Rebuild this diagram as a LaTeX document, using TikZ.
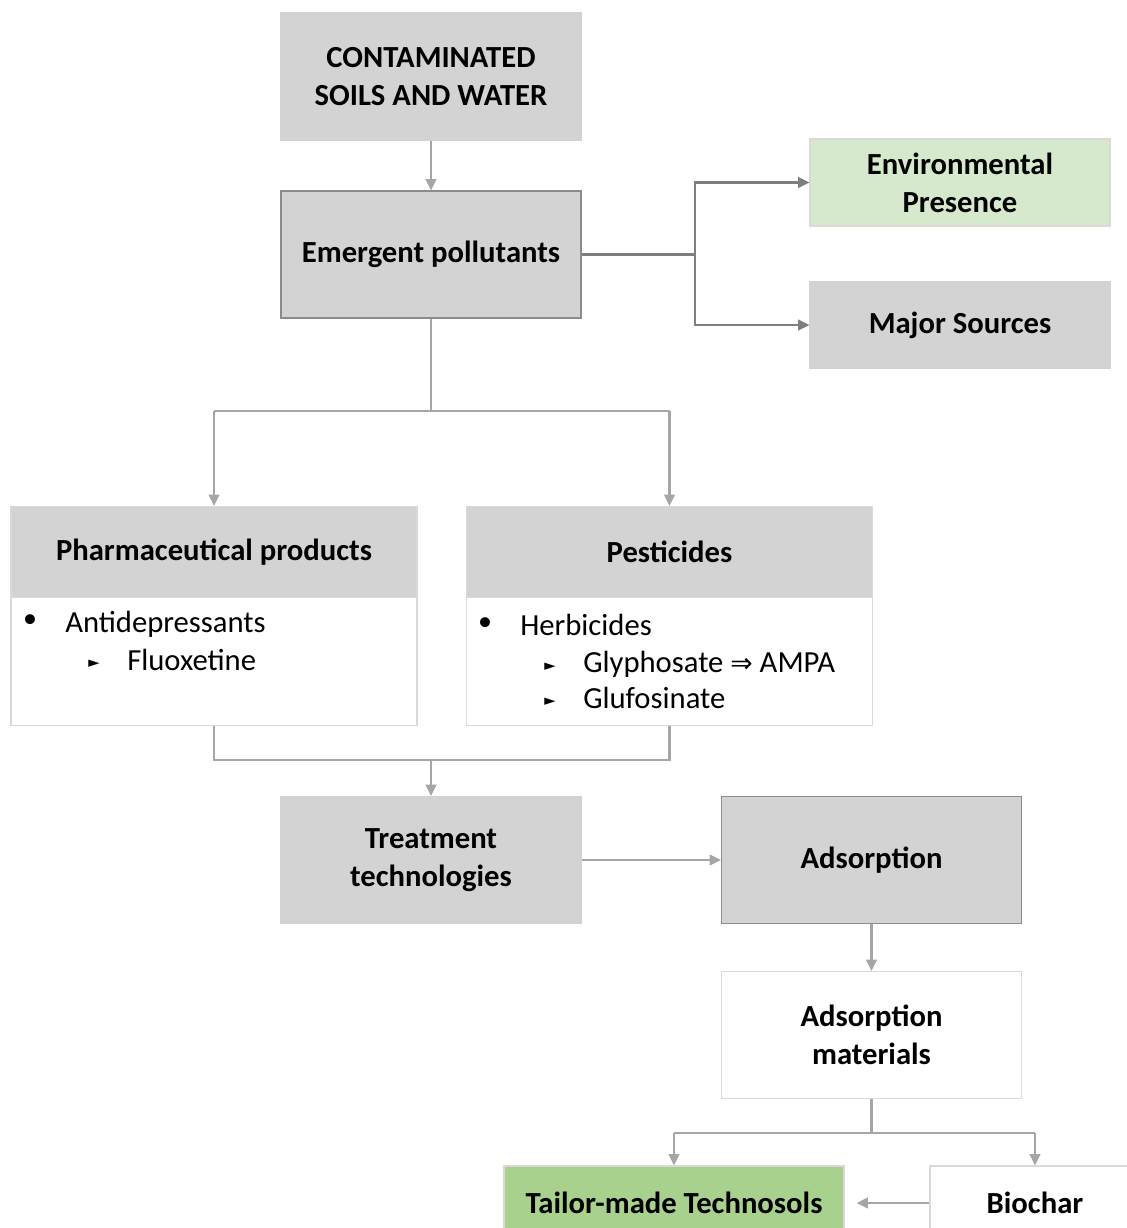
\documentclass[tikz,border=0pt]{standalone}
\usepackage{fontspec}
\setmainfont{Carlito}
\newfontfamily\symfont{DejaVu Sans}
\usepackage{xcolor}
\usepackage{tikz}
\usetikzlibrary{arrows.meta}

\definecolor{boxgrey}{RGB}{211,211,211}
\definecolor{edgegrey}{RGB}{140,140,140}
\definecolor{thinedge}{RGB}{217,217,217}
\definecolor{linegrey}{RGB}{166,166,166}
\definecolor{darkline}{RGB}{127,127,127}
\definecolor{palegreen}{RGB}{214,233,204}
\definecolor{midgreen}{RGB}{169,209,142}

\begin{document}
\begin{tikzpicture}[x=0.75pt,y=0.75pt,yscale=-1,xscale=1,
  box/.style={minimum width=225pt, minimum height=95.25pt, inner sep=0pt, align=center,
    line width=0.9pt, font=\fontsize{23}{28.5}\selectfont\bfseries},
  greybox/.style={box, fill=boxgrey, draw=boxgrey},
  edgebox/.style={box, fill=boxgrey, draw=edgegrey},
  whitebox/.style={box, fill=white, draw=thinedge},
  headbox/.style={box, fill=boxgrey, draw=thinedge, minimum width=304.5pt, minimum height=68.25pt},
  listbox/.style={box, fill=white, draw=thinedge, minimum width=304.5pt, minimum height=96pt},
  item/.style={anchor=base west, inner sep=0pt, font=\fontsize{23}{28.5}\selectfont},
  dot/.style={inner sep=0pt, font=\fontsize{21}{21}\selectfont},
  pointer/.style={inner sep=0pt, font=\symfont\fontsize{11}{11}\selectfont},
  conn/.style={draw=linegrey, line width=1.6pt},
  arr/.style={conn, -{Triangle[length=8.5pt,width=8pt]}},
  darkconn/.style={conn, draw=darkline},
  darkarr/.style={arr, draw=darkline},
]
\useasboundingbox (0,0) rectangle (1127,1228);
\clip (0,0) rectangle (1127,1228);

% top of the chart
\node[greybox] (soils) at (431,76.5) {CONTAMINATED\\SOILS AND WATER};
\node[edgebox] (pollut) at (431,254.5) {Emergent pollutants};
\node[greybox, fill=palegreen, draw=thinedge, minimum height=65.25pt] (presence) at (960,182.5) {Environmental\\Presence};
\node[greybox, minimum height=64.5pt] (sources) at (960,325) {Major Sources};

% two groups of pollutants
\node[headbox] (pharma) at (214,552) {Pharmaceutical products};
\node[listbox, anchor=north] (pharmalist) at (214,597) {};
\node[headbox] (pesti) at (669.5,552) {Pesticides};
\node[listbox, anchor=north] (pestilist) at (669.5,597) {};

\node[dot] (pdot) at (30,621) {•};
\node[item] (antidep) at (65,632) {Antidepressants};
\node[pointer] (pptr) at (94,664) {►};
\node[item] (fluox) at (127,670) {Fluoxetine};

\node[dot] (hdot) at (485,624) {•};
\node[item] (herbi) at (520,635) {Herbicides};
\node[pointer] (gptr) at (550,667) {►};
\node[item] (glypho) at (583,672) {Glyphosate {\symfont\fontsize{20}{20}\selectfont ⇒} AMPA};
\node[pointer] (fptr) at (550,702) {►};
\node[item] (glufo) at (583,708) {Glufosinate};

% treatment
\node[greybox] (treat) at (431,860) {Treatment\\technologies};
\node[edgebox] (adsorb) at (871.5,860) {Adsorption};
\node[whitebox] (adsmat) at (871.5,1035) {Adsorption\\materials};
\node[greybox, fill=midgreen, draw=thinedge, minimum width=255pt, minimum height=55.5pt] (tailor) at (674,1203) {Tailor-made Technosols};
\node[whitebox, minimum width=157.5pt, minimum height=55.5pt] (biochar) at (1035,1203) {Biochar};

% connectors
\draw[arr] (soils) -- (pollut);
\draw[darkconn] (pollut.east) -- (695,254.5) coordinate (fork1);
\draw[darkarr] (fork1) |- (presence.west);
\draw[darkarr] (fork1) |- (sources.west);

\draw[conn] (pollut.south) -- (431,411) coordinate (fork2);
\draw[conn] (pharma.north |- fork2) -- (pesti.north |- fork2);
\draw[arr] (pharma.north |- fork2) -- (pharma.north);
\draw[arr] (pesti.north |- fork2) -- (pesti.north);

\coordinate (join) at (431,760);
\draw[conn] (pharmalist.south) |- (join);
\draw[conn] (pestilist.south) |- (join);
\draw[arr] (join) -- (treat.north);

\draw[arr] (treat) -- (adsorb);
\draw[arr] (adsorb) -- (adsmat);
\draw[conn] (adsmat.south) -- (871.5,1133) coordinate (fork3);
\draw[conn] (tailor.north |- fork3) -- (biochar.north |- fork3);
\draw[arr] (tailor.north |- fork3) -- (tailor.north);
\draw[arr] (biochar.north |- fork3) -- (biochar.north);
\draw[arr, shorten >=9pt] (biochar) -- (tailor);
\end{tikzpicture}
\end{document}
